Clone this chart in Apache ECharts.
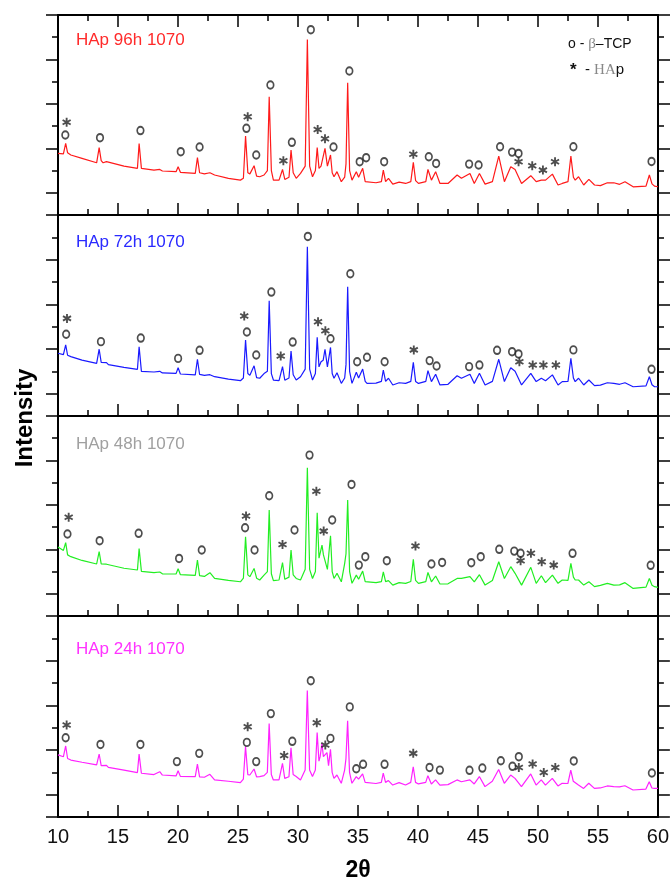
<!DOCTYPE html>
<html>
<head>
<meta charset="utf-8">
<script src="https://cdn.jsdelivr.net/npm/echarts@6/dist/echarts.min.js"></script>
<style>
html, body { margin: 0; padding: 0; background: #fff; }
#chart { width: 672px; height: 883px; }
</style>
</head>
<body>
<div id="chart"></div>
<script>
// XRD patterns, [2theta, intensity (arb. units, 0-9 per panel)]
const trace96h = [
    [10.0, 2.77], [10.45, 2.75], [10.64, 3.22], [10.8, 2.8], [11.07, 2.7], [12.0, 2.55],
    [13.22, 2.35], [13.43, 3.03], [13.6, 2.45], [13.76, 2.35], [14.04, 2.4], [14.2, 2.33],
    [15.5, 2.2], [16.62, 2.1], [16.76, 3.22], [16.95, 2.1], [18.0, 2.02], [18.48, 2.05],
    [18.7, 1.98], [19.84, 1.95], [20.01, 2.17], [20.2, 1.92], [21.44, 1.87], [21.62, 2.58],
    [21.8, 1.9], [22.2, 1.85], [22.66, 1.9], [23.05, 1.8], [24.2, 1.65], [25.2, 1.57],
    [25.45, 1.65], [25.63, 3.55], [25.82, 1.9], [25.99, 1.85], [26.34, 2.22], [26.55, 1.75],
    [26.81, 1.72], [27.17, 1.8], [27.45, 2.0], [27.6, 5.32], [27.78, 2.0], [27.95, 1.57],
    [28.42, 1.57], [28.71, 2.05], [28.9, 1.6], [29.25, 1.7], [29.42, 2.92], [29.6, 1.9],
    [29.85, 1.65], [30.21, 1.87], [30.6, 2.2], [30.78, 7.9], [30.97, 2.2], [31.21, 1.72],
    [31.45, 2.0], [31.6, 3.03], [31.75, 2.1], [31.92, 2.2], [32.25, 3.0], [32.45, 2.2],
    [32.71, 2.7], [32.85, 1.9], [33.0, 1.72], [33.25, 1.95], [33.61, 1.5], [33.89, 1.7],
    [34.0, 2.3], [34.14, 5.95], [34.3, 2.0], [34.5, 1.57], [34.86, 1.95], [35.05, 1.7],
    [35.39, 2.1], [35.6, 1.5], [35.75, 1.42], [36.5, 1.45], [36.95, 1.5], [37.11, 2.02],
    [37.3, 1.5], [37.54, 1.65], [37.9, 1.39], [38.43, 1.48], [38.97, 1.42], [39.4, 1.5],
    [39.61, 2.37], [39.8, 1.55], [40.04, 1.42], [40.65, 1.5], [40.83, 2.05], [41.12, 1.57],
    [41.47, 1.95], [41.83, 1.42], [42.5, 1.42], [43.26, 1.8], [43.62, 1.65], [44.33, 1.87],
    [44.69, 1.42], [45.12, 1.87], [45.59, 1.39], [46.2, 1.5], [46.73, 2.65], [47.2, 1.5],
    [47.73, 2.17], [48.09, 2.05], [48.63, 1.42], [49.4, 1.77], [49.85, 1.5], [50.28, 1.57],
    [50.63, 1.57], [51.2, 1.84], [51.67, 1.35], [52.02, 1.42], [52.5, 1.5], [52.74, 2.65],
    [52.95, 1.7], [53.1, 1.57], [53.38, 1.72], [53.81, 1.35], [54.24, 1.6], [54.71, 1.35],
    [55.2, 1.32], [55.78, 1.45], [56.32, 1.45], [56.8, 1.38], [57.25, 1.5], [57.93, 1.27],
    [59.0, 1.3], [59.28, 1.8], [59.5, 1.4], [59.71, 1.3], [60.0, 1.27]
];
const trace72h = [
    [10.0, 2.81], [10.45, 2.75], [10.64, 3.18], [10.8, 2.72], [11.07, 2.66], [12.0, 2.5],
    [13.22, 2.36], [13.43, 2.99], [13.6, 2.4], [13.76, 2.33], [14.04, 2.39], [14.2, 2.3],
    [15.5, 2.18], [16.62, 2.09], [16.76, 3.1], [16.95, 2.0], [18.0, 1.97], [18.48, 2.0],
    [18.7, 1.93], [19.84, 1.91], [20.01, 2.16], [20.2, 1.88], [21.44, 1.84], [21.62, 2.54],
    [21.8, 1.86], [22.2, 1.82], [22.66, 1.85], [23.05, 1.76], [24.2, 1.65], [25.2, 1.58],
    [25.45, 1.7], [25.63, 3.4], [25.82, 1.9], [25.99, 1.82], [26.34, 2.25], [26.55, 1.72],
    [26.81, 1.69], [27.17, 1.9], [27.45, 2.0], [27.6, 5.16], [27.78, 1.9], [27.95, 1.61],
    [28.42, 1.58], [28.71, 2.21], [28.9, 1.6], [29.25, 1.7], [29.42, 2.91], [29.6, 1.85],
    [29.85, 1.61], [30.21, 1.76], [30.6, 2.1], [30.78, 7.58], [30.97, 2.1], [31.21, 1.61],
    [31.45, 1.9], [31.6, 3.52], [31.75, 2.2], [31.92, 2.43], [32.1, 2.5], [32.25, 2.99],
    [32.45, 2.2], [32.71, 3.07], [32.85, 1.9], [33.0, 1.69], [33.25, 1.94], [33.61, 1.46],
    [33.89, 1.7], [34.0, 2.3], [34.14, 5.79], [34.3, 2.0], [34.5, 1.46], [34.86, 1.96],
    [35.05, 1.7], [35.39, 2.1], [35.6, 1.55], [35.75, 1.46], [36.5, 1.47], [36.95, 1.55],
    [37.11, 2.06], [37.3, 1.55], [37.54, 1.69], [37.9, 1.39], [38.43, 1.49], [38.97, 1.46],
    [39.4, 1.55], [39.61, 2.4], [39.8, 1.55], [40.04, 1.46], [40.65, 1.55], [40.83, 2.03],
    [41.12, 1.54], [41.47, 1.87], [41.83, 1.39], [42.5, 1.42], [43.26, 1.8], [43.62, 1.69],
    [44.33, 1.87], [44.69, 1.46], [45.12, 1.91], [45.59, 1.39], [46.2, 1.55], [46.73, 2.54],
    [47.2, 1.54], [47.73, 2.16], [48.09, 2.0], [48.63, 1.39], [49.4, 1.91], [49.85, 1.54],
    [50.28, 1.69], [50.63, 1.58], [51.2, 1.84], [51.67, 1.39], [52.02, 1.54], [52.5, 1.55],
    [52.74, 2.58], [52.95, 1.7], [53.1, 1.54], [53.38, 1.69], [53.81, 1.39], [54.24, 1.61],
    [54.71, 1.36], [55.2, 1.38], [55.78, 1.49], [56.32, 1.46], [56.8, 1.42], [57.25, 1.49],
    [57.93, 1.31], [59.0, 1.35], [59.28, 1.76], [59.5, 1.4], [59.71, 1.31], [60.0, 1.31]
];
const trace48h = [
    [10.0, 3.1], [10.45, 2.95], [10.64, 3.3], [10.8, 2.75], [11.07, 2.67], [12.0, 2.5],
    [13.22, 2.34], [13.43, 2.9], [13.6, 2.35], [13.76, 2.29], [14.04, 2.33], [14.2, 2.25],
    [15.5, 2.15], [16.62, 2.07], [16.76, 3.03], [16.95, 2.01], [18.0, 1.95], [18.48, 1.98],
    [18.7, 1.9], [19.84, 1.89], [20.01, 2.13], [20.2, 1.86], [21.44, 1.83], [21.62, 2.52],
    [21.8, 1.82], [22.2, 1.78], [22.66, 1.95], [23.05, 1.69], [24.2, 1.6], [25.2, 1.54],
    [25.45, 1.7], [25.63, 3.57], [25.82, 1.85], [25.99, 1.77], [26.34, 2.14], [26.55, 1.7],
    [26.81, 1.62], [27.17, 1.84], [27.45, 2.0], [27.6, 4.77], [27.78, 1.9], [27.95, 1.59],
    [28.42, 1.62], [28.71, 2.4], [28.9, 1.65], [29.25, 1.75], [29.42, 2.97], [29.6, 1.85],
    [29.85, 1.69], [30.21, 1.62], [30.6, 2.1], [30.78, 6.67], [30.97, 2.1], [31.21, 1.69],
    [31.45, 2.0], [31.6, 4.65], [31.75, 2.6], [31.85, 2.67], [32.0, 3.19], [32.12, 2.75],
    [32.25, 2.82], [32.45, 2.1], [32.71, 3.61], [32.85, 2.0], [33.0, 1.69], [33.25, 1.92],
    [33.61, 1.54], [33.89, 2.37], [34.0, 2.8], [34.14, 5.22], [34.3, 2.0], [34.5, 1.47],
    [34.86, 1.84], [35.05, 1.65], [35.39, 2.02], [35.6, 1.55], [35.75, 1.47], [36.5, 1.5],
    [36.95, 1.55], [37.11, 1.99], [37.3, 1.55], [37.54, 1.59], [37.9, 1.39], [38.43, 1.5],
    [38.97, 1.47], [39.4, 1.55], [39.61, 2.55], [39.8, 1.6], [40.04, 1.47], [40.65, 1.55],
    [40.83, 1.96], [41.12, 1.54], [41.47, 1.8], [41.83, 1.44], [42.5, 1.45], [43.26, 1.69],
    [43.62, 1.69], [44.33, 1.77], [44.69, 1.54], [45.12, 1.86], [45.59, 1.39], [46.2, 1.6],
    [46.73, 2.44], [47.2, 1.69], [47.73, 2.22], [48.09, 1.92], [48.63, 1.39], [49.4, 2.19],
    [49.85, 1.47], [50.28, 1.81], [50.63, 1.5], [51.2, 1.84], [51.67, 1.47], [52.02, 1.62],
    [52.5, 1.6], [52.74, 2.37], [52.95, 1.75], [53.1, 1.62], [53.38, 1.62], [53.81, 1.39],
    [54.24, 1.54], [54.71, 1.32], [55.2, 1.38], [55.78, 1.47], [56.32, 1.39], [56.8, 1.4],
    [57.25, 1.5], [57.93, 1.24], [59.0, 1.3], [59.28, 1.69], [59.5, 1.38], [59.71, 1.32],
    [60.0, 1.29]
];
const trace24h = [
    [10.0, 2.78], [10.45, 2.7], [10.64, 3.18], [10.8, 2.62], [11.07, 2.55], [12.0, 2.45],
    [13.22, 2.33], [13.43, 2.82], [13.6, 2.3], [13.76, 2.28], [14.04, 2.31], [14.2, 2.22],
    [15.5, 2.1], [16.62, 1.99], [16.76, 2.82], [16.95, 1.96], [18.0, 1.9], [18.48, 2.03],
    [18.7, 1.88], [19.84, 1.84], [20.01, 2.07], [20.2, 1.82], [21.44, 1.81], [21.62, 2.37],
    [21.8, 1.8], [22.2, 1.78], [22.66, 1.91], [23.05, 1.66], [24.2, 1.6], [25.2, 1.54],
    [25.45, 1.7], [25.63, 3.15], [25.82, 1.9], [25.99, 1.88], [26.34, 2.15], [26.55, 1.8],
    [26.81, 1.81], [27.17, 1.85], [27.45, 2.0], [27.6, 4.19], [27.78, 1.9], [27.95, 1.66],
    [28.42, 1.66], [28.71, 2.4], [28.9, 1.73], [29.25, 1.8], [29.42, 3.1], [29.6, 1.9],
    [29.85, 1.81], [30.21, 1.66], [30.6, 2.1], [30.78, 5.66], [30.97, 2.1], [31.21, 1.81],
    [31.45, 2.1], [31.6, 3.78], [31.75, 2.5], [31.85, 2.7], [32.0, 3.3], [32.12, 2.7],
    [32.25, 2.7], [32.42, 2.88], [32.55, 2.3], [32.71, 3.03], [32.85, 2.0], [33.0, 1.73],
    [33.25, 1.88], [33.61, 1.51], [33.89, 2.1], [34.0, 2.6], [34.14, 4.31], [34.3, 2.0],
    [34.5, 1.51], [34.86, 1.81], [35.05, 1.7], [35.39, 1.93], [35.6, 1.55], [35.75, 1.51],
    [36.5, 1.5], [36.95, 1.55], [37.11, 1.96], [37.3, 1.55], [37.54, 1.63], [37.9, 1.43],
    [38.43, 1.54], [38.97, 1.43], [39.4, 1.55], [39.61, 2.25], [39.8, 1.55], [40.04, 1.48],
    [40.65, 1.55], [40.83, 1.85], [41.12, 1.48], [41.47, 1.66], [41.83, 1.43], [42.5, 1.45],
    [43.26, 1.66], [43.62, 1.58], [44.33, 1.66], [44.69, 1.48], [45.12, 1.81], [45.59, 1.36],
    [46.2, 1.6], [46.73, 2.13], [47.2, 1.51], [47.73, 1.88], [48.09, 1.73], [48.63, 1.36],
    [49.4, 1.93], [49.85, 1.43], [50.28, 1.66], [50.63, 1.43], [51.2, 1.73], [51.67, 1.39],
    [52.02, 1.51], [52.5, 1.5], [52.74, 2.1], [52.95, 1.6], [53.1, 1.54], [53.38, 1.43],
    [53.81, 1.28], [54.24, 1.51], [54.71, 1.28], [55.2, 1.3], [55.78, 1.39], [56.32, 1.36],
    [56.8, 1.35], [57.25, 1.4], [57.93, 1.21], [59.0, 1.25], [59.28, 1.58], [59.5, 1.3],
    [59.71, 1.28], [60.0, 1.28]
];

// peak markers: o = beta-TCP, * = HAp
const tcp96h = [
    [10.61, 3.6], [13.5, 3.48], [16.87, 3.8], [20.23, 2.85], [21.8, 3.06], [25.7, 3.9],
    [26.52, 2.7], [27.7, 5.85], [29.49, 3.27], [31.07, 8.34], [32.96, 3.06], [34.28, 6.48],
    [35.14, 2.4], [35.68, 2.58], [37.18, 2.4], [40.9, 2.62], [41.51, 2.32], [44.26, 2.29],
    [45.05, 2.25], [46.84, 3.07], [47.84, 2.83], [48.38, 2.77], [52.95, 3.07], [59.46, 2.41]
];
const hap96h = [
    [10.72, 4.17], [25.81, 4.42], [28.78, 2.44], [31.64, 3.85], [32.25, 3.43], [39.61, 2.73],
    [48.38, 2.4], [49.52, 2.22], [50.41, 2.02], [51.42, 2.4]
];
const tcp72h = [
    [10.68, 3.66], [13.58, 3.33], [16.9, 3.49], [20.01, 2.58], [21.8, 2.94], [25.74, 3.76],
    [26.52, 2.73], [27.78, 5.55], [29.56, 3.31], [30.82, 8.04], [32.71, 3.46], [34.36, 6.37],
    [34.93, 2.43], [35.75, 2.63], [37.22, 2.43], [40.97, 2.48], [41.55, 2.24], [44.26, 2.21],
    [45.12, 2.28], [46.59, 2.94], [47.84, 2.88], [48.38, 2.78], [52.95, 2.96], [59.46, 2.09]
];
const hap72h = [
    [10.75, 4.37], [25.52, 4.48], [28.56, 2.69], [31.67, 4.22], [32.28, 3.82], [39.65, 2.96],
    [48.45, 2.43], [49.56, 2.28], [50.45, 2.28], [51.49, 2.28]
];
const tcp48h = [
    [10.79, 3.69], [13.47, 3.39], [16.72, 3.72], [20.09, 2.59], [21.98, 2.97], [25.59, 3.97],
    [26.38, 2.97], [27.6, 5.41], [29.71, 3.87], [30.96, 7.24], [32.85, 4.32], [34.46, 5.92],
    [35.07, 2.29], [35.61, 2.67], [37.4, 2.49], [41.12, 2.34], [42.01, 2.41], [44.44, 2.4],
    [45.23, 2.67], [46.77, 3.0], [48.02, 2.92], [48.55, 2.82], [52.88, 2.82], [59.39, 2.28]
];
const hap48h = [
    [10.89, 4.44], [25.67, 4.5], [28.71, 3.22], [31.53, 5.61], [32.14, 3.82], [39.79, 3.15],
    [48.55, 2.49], [49.41, 2.82], [50.31, 2.44], [51.31, 2.29]
];
const tcp24h = [
    [10.64, 3.55], [13.54, 3.25], [16.87, 3.25], [19.91, 2.48], [21.77, 2.85], [25.74, 3.34],
    [26.52, 2.48], [27.74, 4.63], [29.53, 3.39], [31.07, 6.1], [32.71, 3.52], [34.32, 4.93],
    [34.86, 2.16], [35.43, 2.36], [37.22, 2.36], [40.97, 2.22], [41.83, 2.1], [44.3, 2.09],
    [45.37, 2.19], [46.91, 2.52], [47.88, 2.27], [48.41, 2.7], [52.99, 2.51], [59.5, 1.97]
];
const hap24h = [
    [10.72, 4.12], [25.81, 4.04], [28.85, 2.75], [31.57, 4.22], [32.28, 3.22], [39.61, 2.85],
    [48.41, 2.22], [49.56, 2.37], [50.49, 1.99], [51.45, 2.22]
];

const sampleLabels = ['HAp 96h 1070', 'HAp 72h 1070', 'HAp 48h 1070', 'HAp 24h 1070'];
const traces = [trace96h, trace72h, trace48h, trace24h];
const tcpMarks = [tcp96h, tcp72h, tcp48h, tcp24h];
const hapMarks = [hap96h, hap72h, hap48h, hap24h];

const lineColors = ['#ff1a1a', '#1a1aff', '#22ee22', '#ff22ff'];
const labelColors = ['#ff2a2a', '#2a2aff', '#a0a0a0', '#ff33ff'];
const gridTops = [15, 215, 416, 616];
const gridHeights = [200, 201, 200, 201];
const labelY = [40, 242, 444, 649];

// six-armed asterisk for the HAp marks
const starPath = 'path://M-0.2,-1L0.2,-1L0.2,1L-0.2,1Z' +
    'M0.766,-0.673L0.966,-0.327L-0.766,0.673L-0.966,0.327Z' +
    'M0.966,0.327L0.766,0.673L-0.966,-0.327L-0.766,-0.673Z';

const FONT = '"Liberation Sans", Arial, sans-serif';

const chart = echarts.init(document.getElementById('chart'));

const grids = [];
const xAxes = [];
const yAxes = [];
const series = [];
const graphics = [];

function xAxisFor(i, pos, showLabel) {
    return {
        gridIndex: i,
        type: 'value',
        min: 10,
        max: 60,
        interval: 5,
        position: pos,
        axisLine: { show: true, onZero: false, lineStyle: { color: '#000', width: 2 } },
        axisTick: { show: true, inside: true, length: 12, lineStyle: { color: '#000', width: 1.5 } },
        minorTick: { show: true, splitNumber: 2, length: 6, lineStyle: { color: '#000', width: 1.5 } },
        axisLabel: { show: showLabel, fontSize: 20, color: '#111', margin: 10, fontFamily: FONT },
        splitLine: { show: false }
    };
}

// major=true: inverted helper axis that only draws the long ticks
function yAxisFor(i, pos, major) {
    return {
        gridIndex: i,
        type: 'value',
        min: 0,
        max: 9,
        interval: major ? 2 : 1,
        inverse: major,
        position: pos,
        axisLine: { show: !major, onZero: false, lineStyle: { color: '#000', width: 2 } },
        axisTick: { show: true, inside: false, length: major ? 12 : 6, lineStyle: { color: '#000', width: 1.5 } },
        axisLabel: { show: false },
        splitLine: { show: false }
    };
}

for (let i = 0; i < 4; i++) {
    grids.push({ left: 58, right: 14, top: gridTops[i], height: gridHeights[i] });
    xAxes.push(xAxisFor(i, 'bottom', i === 3));
    yAxes.push(yAxisFor(i, 'left', false));
    yAxes.push(yAxisFor(i, 'left', true));
    yAxes.push(yAxisFor(i, 'right', false));
    yAxes.push(yAxisFor(i, 'right', true));

    series.push({
        type: 'line',
        xAxisIndex: i,
        yAxisIndex: i * 4,
        data: traces[i],
        showSymbol: false,
        lineStyle: { color: lineColors[i], width: 1.2 },
        z: 2
    });
    series.push({
        type: 'scatter',
        xAxisIndex: i,
        yAxisIndex: i * 4,
        data: tcpMarks[i],
        symbol: 'circle',
        symbolSize: [6.5, 7.5],
        itemStyle: { color: 'rgba(0,0,0,0)', borderColor: '#222', borderWidth: 1.8 },
        z: 3
    });
    series.push({
        type: 'scatter',
        xAxisIndex: i,
        yAxisIndex: i * 4,
        data: hapMarks[i],
        symbol: starPath,
        symbolSize: [9, 9],
        itemStyle: { color: '#222' },
        z: 3
    });

    graphics.push({
        type: 'text',
        x: 76,
        y: labelY[i],
        style: {
            text: sampleLabels[i],
            fill: labelColors[i],
            font: '17px ' + FONT,
            textAlign: 'left',
            textVerticalAlign: 'middle'
        }
    });
}
// top frame of first panel
xAxes.push(xAxisFor(0, 'top', false));

graphics.push({
    type: 'text',
    x: 568,
    y: 44,
    style: {
        text: '{k|o - }{g|β}{k|–TCP}',
        textVerticalAlign: 'middle',
        rich: {
            k: { fill: '#111', font: '14px ' + FONT },
            g: { fill: '#888', font: '15px "Liberation Serif", serif' }
        }
    }
});
graphics.push({
    type: 'text',
    x: 570,
    y: 70,
    style: {
        text: '{s|*}{k|  - }{g|HA}{k|p}',
        textVerticalAlign: 'middle',
        rich: {
            s: { fill: '#111', font: 'bold 17px ' + FONT },
            k: { fill: '#111', font: '15px ' + FONT },
            g: { fill: '#888', font: '15px "Liberation Serif", serif' }
        }
    }
});
graphics.push({
    type: 'text',
    x: 25,
    y: 418,
    rotation: Math.PI / 2,
    style: {
        text: 'Intensity',
        fill: '#000',
        font: 'bold 24px ' + FONT,
        textAlign: 'center',
        textVerticalAlign: 'middle'
    }
});
graphics.push({
    type: 'text',
    x: 358,
    y: 871,
    style: {
        text: '2θ',
        fill: '#000',
        font: 'bold 23px ' + FONT,
        textAlign: 'center',
        textVerticalAlign: 'middle'
    }
});

chart.setOption({
    backgroundColor: '#fff',
    animation: false,
    grid: grids,
    xAxis: xAxes,
    yAxis: yAxes,
    series: series,
    graphic: graphics
});
</script>
</body>
</html>
